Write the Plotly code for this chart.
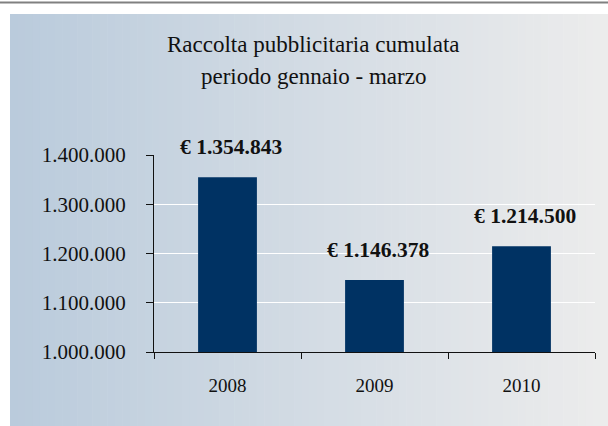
import plotly.graph_objects as go

categories = ["2008", "2009", "2010"]
values = [1354843, 1146378, 1214500]
labels = ["€ 1.354.843", "€ 1.146.378", "€ 1.214.500"]
title_lines = ["Raccolta pubblicitaria cumulata", "periodo gennaio - marzo"]

W, H = 608, 426
ML, MR, MT, MB = 154, 13, 155, 74
PW, PH = W - ML - MR, H - MT - MB

def px_x(px):
    return (px - ML) / PW

def px_y(py):
    return 1 - (py - MT) / PH

FONT = "Liberation Serif"

shapes = []
# gradient panel
c0 = (186, 203, 220)
c1 = (236, 236, 236)
x_start, x_end = 10, 608
n = 80
for i in range(n):
    t = i / (n - 1)
    c = tuple(round(c0[k] + (c1[k] - c0[k]) * t) for k in range(3))
    xa = x_start + (x_end - x_start) * i / n
    xb = x_start + (x_end - x_start) * (i + 1) / n + 0.6
    shapes.append(dict(type="rect", xref="paper", yref="paper",
                       x0=px_x(xa), x1=px_x(xb), y0=px_y(14), y1=px_y(426),
                       fillcolor="rgb(%d,%d,%d)" % c, line=dict(width=0), layer="below"))
# top gray rule
shapes.append(dict(type="line", xref="paper", yref="paper",
                   x0=px_x(0), x1=px_x(608), y0=px_y(2.5), y1=px_y(2.5),
                   line=dict(color="#808080", width=2), layer="above"))

fig = go.Figure()
fig.add_trace(go.Bar(x=categories, y=values, marker=dict(color="#003263", line=dict(width=0)),
                     width=0.4, hoverinfo="skip"))

annotations = []
for i, (v, l) in enumerate(zip(values, labels)):
    annotations.append(dict(x=i, y=v, text="<b>%s</b>" % l, showarrow=False,
                            yanchor="middle", yshift=30, xshift=3,
                            font=dict(family=FONT, size=21.5, color="#111111")))
for i, line in enumerate(title_lines):
    annotations.append(dict(xref="paper", yref="paper", x=px_x(313), y=px_y([45, 77][i]),
                            text=line, showarrow=False, xanchor="center", yanchor="middle",
                            font=dict(family=FONT, size=23, color="#111111")))

fig.update_layout(
    width=W, height=H,
    margin=dict(l=ML, r=MR, t=MT, b=MB, pad=0),
    paper_bgcolor="white",
    plot_bgcolor="rgba(0,0,0,0)",
    separators=",.",
    showlegend=False,
    shapes=shapes,
    annotations=annotations,
    xaxis=dict(type="category", range=[-0.5, 2.5], autorange=False, showgrid=False,
               showline=True, linecolor="#111111", linewidth=1.2,
               ticks="outside", tickson="boundaries", ticklen=6, tickcolor="#111111", tickwidth=1,
               tickfont=dict(family=FONT, size=19, color="#111111"), ticklabelstandoff=16,
               tickangle=0),
    yaxis=dict(range=[1000000, 1400000], autorange=False,
               tickvals=[1000000, 1100000, 1200000, 1300000, 1400000],
               tickformat=",d", showgrid=True, gridcolor="white", gridwidth=1.2,
               showline=True, linecolor="#111111", linewidth=1.2, zeroline=False,
               ticks="outside", ticklen=7, tickcolor="#111111", tickwidth=1,
               tickfont=dict(family=FONT, size=21, color="#111111"), ticklabelstandoff=16),
)

fig.write_html("out.html", config={"displayModeBar": False},
               post_script="document.body.style.margin='0';document.body.style.overflow='hidden';")
